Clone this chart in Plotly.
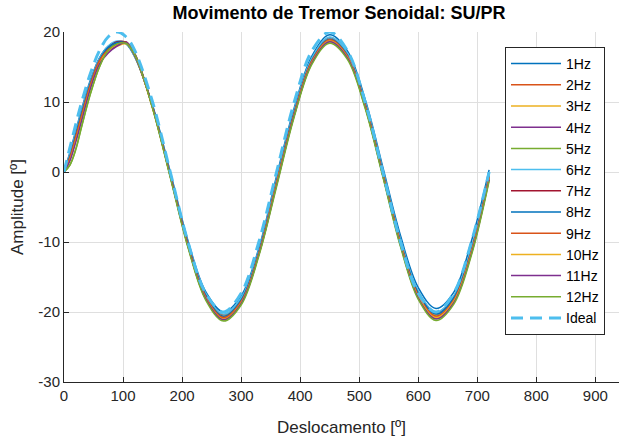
import plotly.graph_objects as go

# Displacement samples [deg]
deslocamento = [0, 10, 20, 30, 45, 60, 75, 90, 105, 120,
                150, 180, 210, 240, 270, 300, 330, 360, 390, 420,
                450, 480, 510, 540, 570, 600, 630, 660, 690, 720]

# Measured tremor amplitude [deg] for each excitation frequency
amp_1hz = [0, 2.8, 5.9, 9.0, 13.2, 16.3, 18.0, 18.6, 18.3, 16.4,
           9.5, 0.0, -9.8, -17.1, -20.0, -17.7, -10.9, -0.6, 9.2, 16.6,
           19.6, 17.3, 10.4, 0.7, -9.1, -16.5, -19.5, -17.2, -9.9, 0.3]
amp_2hz = [0, 2.5, 5.6, 8.7, 12.9, 16.1, 17.9, 18.4, 18.5, 16.5,
           9.4, -0.3, -10.1, -17.4, -20.4, -18.1, -11.3, -1.1, 8.8, 16.2,
           19.2, 16.9, 10.0, 0.2, -9.7, -17.1, -20.1, -17.8, -10.9, -0.3]
amp_3hz = [0, 2.2, 5.3, 8.4, 12.7, 16.0, 17.6, 18.0, 18.3, 16.5,
           9.2, -0.5, -10.3, -17.6, -20.6, -18.3, -11.5, -1.4, 8.5, 15.9,
           18.9, 16.6, 9.7, -0.1, -10.0, -17.4, -20.4, -18.1, -11.2, -0.6]
amp_4hz = [0, 2.0, 5.0, 8.1, 12.5, 15.8, 17.2, 18.1, 18.6, 16.7,
           9.3, -0.4, -10.4, -17.8, -20.8, -18.5, -11.5, -1.6, 8.4, 15.8,
           18.8, 16.5, 9.5, -0.2, -10.2, -17.6, -20.6, -18.3, -11.3, -0.8]
amp_5hz = [0, 1.0, 3.2, 6.5, 11.2, 15.0, 17.5, 18.4, 18.5, 16.8,
           9.2, -0.6, -10.6, -18.1, -21.1, -18.8, -11.8, -1.8, 8.1, 15.6,
           18.6, 16.3, 9.3, -0.5, -10.4, -17.9, -20.9, -18.6, -11.6, -1.0]
amp_6hz = [0, 2.6, 5.7, 8.8, 13.0, 16.2, 18.0, 18.7, 18.4, 16.5,
           9.5, -0.1, -10.0, -17.3, -20.3, -18.0, -11.1, -1.0, 8.9, 16.3,
           19.3, 17.0, 10.1, 0.3, -9.6, -17.0, -20.0, -17.7, -10.8, -0.2]
amp_7hz = [0, 1.8, 4.7, 7.8, 12.3, 15.7, 17.7, 18.6, 18.5, 16.7,
           9.3, -0.5, -10.4, -17.9, -20.9, -18.6, -11.6, -1.6, 8.3, 15.8,
           18.8, 16.5, 9.5, -0.3, -10.2, -17.7, -20.7, -18.4, -11.4, -0.8]
amp_8hz = [0, 2.3, 5.4, 8.5, 12.8, 16.0, 17.8, 18.5, 18.4, 16.6,
           9.4, -0.3, -10.2, -17.6, -20.6, -18.3, -11.4, -1.3, 8.6, 16.0,
           19.0, 16.7, 9.8, 0.0, -9.9, -17.3, -20.3, -18.0, -11.1, -0.5]
amp_9hz = [0, 2.1, 5.1, 8.2, 12.6, 15.9, 17.5, 18.2, 18.5, 16.7,
           9.3, -0.5, -10.4, -17.8, -20.8, -18.5, -11.6, -1.5, 8.4, 15.9,
           18.9, 16.6, 9.6, -0.2, -10.1, -17.6, -20.6, -18.3, -11.3, -0.7]
amp_10hz = [0, 1.7, 4.5, 7.6, 12.1, 15.5, 17.3, 18.2, 18.4, 16.8,
            9.1, -0.6, -10.6, -18.0, -21.0, -18.7, -11.7, -1.7, 8.2, 15.7,
            18.7, 16.4, 9.4, -0.4, -10.3, -17.8, -20.8, -18.5, -11.5, -0.9]
amp_11hz = [0, 1.6, 4.3, 7.4, 12.0, 15.4, 17.0, 18.0, 18.5, 16.9,
            9.2, -0.6, -10.6, -18.1, -21.1, -18.8, -11.8, -1.9, 8.1, 15.6,
            18.6, 16.3, 9.3, -0.5, -10.5, -18.0, -21.0, -18.7, -11.7, -1.1]
amp_12hz = [0, 1.0, 3.3, 6.6, 11.3, 15.0, 17.4, 18.3, 18.4, 16.8,
            9.1, -0.8, -10.8, -18.3, -21.3, -19.0, -12.0, -2.1, 7.9, 15.4,
            18.4, 16.1, 9.1, -0.7, -10.7, -18.2, -21.2, -18.9, -11.9, -1.3]

# Reference sinusoid (20 deg amplitude)
ideal = [0, 3.47, 6.84, 10.0, 14.14, 17.32, 19.32, 20.0, 19.32, 17.32,
         10.0, 0.0, -10.0, -17.32, -20.0, -17.32, -10.0, 0.0, 10.0, 17.32,
         20.0, 17.32, 10.0, 0.0, -10.0, -17.32, -20.0, -17.32, -10.0, 0.0]

series_names = ["1Hz", "2Hz", "3Hz", "4Hz", "5Hz", "6Hz", "7Hz",
                "8Hz", "9Hz", "10Hz", "11Hz", "12Hz"]
series_values = [amp_1hz, amp_2hz, amp_3hz, amp_4hz, amp_5hz, amp_6hz, amp_7hz,
                 amp_8hz, amp_9hz, amp_10hz, amp_11hz, amp_12hz]

x_ticks = [0, 100, 200, 300, 400, 500, 600, 700, 800, 900]
y_ticks = [-30, -20, -10, 0, 10, 20]
y_tick_text = ["-30", "-20", "-10", "0", "10", "20"]

palette = ["#0072BD", "#D95319", "#EDB120", "#7E2F8E", "#77AC30", "#4DBEEE", "#A2142F"]

FONT = "Liberation Sans, Arial, sans-serif"
INK = "#262626"

fig = go.Figure()
for i, (name, vals) in enumerate(zip(series_names, series_values)):
    fig.add_trace(go.Scatter(
        x=deslocamento, y=vals, mode="lines", name=name,
        line=dict(color=palette[i % len(palette)], width=1.5, shape="spline", smoothing=1.0),
    ))

fig.add_trace(go.Scatter(
    x=deslocamento, y=ideal, mode="lines", name="Ideal",
    line=dict(color="#4DBEEE", width=3, dash="12px,7px", shape="spline", smoothing=1.0),
))

axis_common = dict(
    showgrid=True, gridcolor="#DFDFDF", gridwidth=1,
    showline=True, linecolor=INK, linewidth=1,
    ticks="inside", ticklen=5, tickcolor=INK, tickwidth=1,
    tickfont=dict(family=FONT, size=15, color=INK),
    zeroline=False, mirror=False,
)

fig.update_layout(
    width=619, height=441,
    margin=dict(l=64, r=0, t=32, b=59),
    paper_bgcolor="white", plot_bgcolor="white",
    title=dict(text="<b>Movimento de Tremor Senoidal: SU/PR</b>",
               x=339 / 619, xref="container", xanchor="center",
               y=1 - 13 / 441, yref="container", yanchor="middle",
               font=dict(family=FONT, size=18, color="black")),
    xaxis=dict(range=[0, 940], tickvals=x_ticks,
               title=dict(text="Deslocamento [º]", standoff=18,
                          font=dict(family=FONT, size=17, color=INK)),
               **axis_common),
    yaxis=dict(range=[-30, 20], tickvals=y_ticks, ticktext=y_tick_text,
               title=dict(text="Amplitude [º]", standoff=10,
                          font=dict(family=FONT, size=17, color=INK)),
               **axis_common),
    legend=dict(x=(505 - 64) / 555, y=(382 - 47) / 350, xanchor="left", yanchor="top",
                bgcolor="white", bordercolor=INK, borderwidth=1,
                font=dict(family=FONT, size=14, color="black"),
                itemwidth=50, tracegroupgap=0),
    showlegend=True,
)

fig.write_html("out.html")
